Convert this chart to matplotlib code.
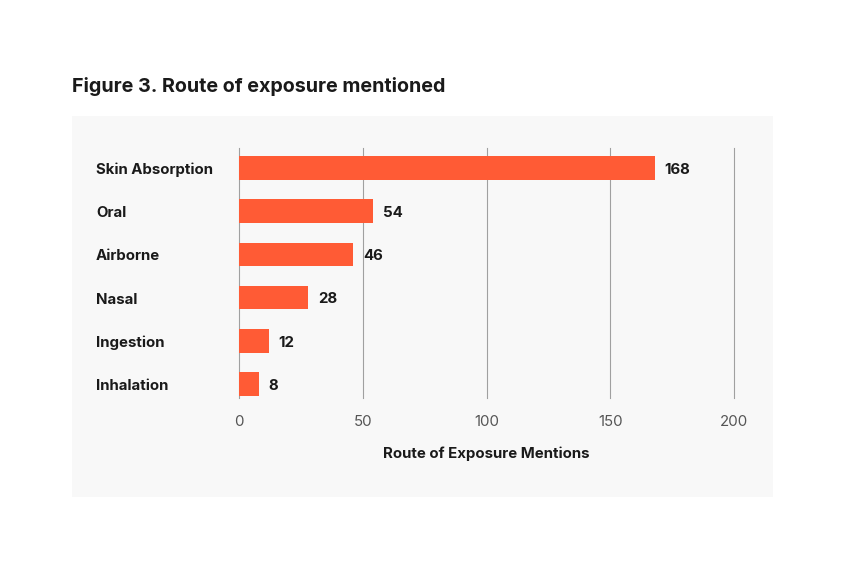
import matplotlib.pyplot as plt
from matplotlib.patches import Rectangle

routes = ["Skin Absorption", "Oral", "Airborne", "Nasal", "Ingestion", "Inhalation"]
mentions = [168, 54, 46, 28, 12, 8]
xticks = [0, 50, 100, 150, 200]

plt.rcParams['font.family'] = ['Inter', 'DejaVu Sans']

W, H = 846, 566
fig = plt.figure(figsize=(W / 100, H / 100), dpi=100)
fig.patch.set_facecolor("white")

# grey panel behind the chart
fig.patches.append(Rectangle((72 / W, 1 - 497 / H), (773 - 72) / W, (497 - 116) / H,
                             transform=fig.transFigure, facecolor="#f8f8f8",
                             edgecolor="none", zorder=-5))

fig.text(72 / W, 1 - 87 / H, "Figure 3. Route of exposure mentioned",
         fontsize=14.2, fontweight="bold", color="#1a1a1a", va="center", ha="left")

ax = fig.add_axes([239 / W, 1 - 398 / H, (734 - 239) / W, (398 - 148) / H])
ax.set_zorder(2)
ax.set_facecolor("none")

ypos = list(range(len(routes)))
ax.barh(ypos, mentions, height=0.55, color="#ff5b35", zorder=3)
ax.set_xlim(0, 200)
ax.set_ylim(5.324, -0.463)

ax.set_xticks(xticks)
ax.xaxis.grid(True, color="#a0a0a0", linewidth=0.8, zorder=1)
for gl in ax.get_xgridlines():
    gl.set_clip_on(False)
ax.set_axisbelow(True)
ax.tick_params(axis="x", length=0, pad=12, labelsize=10.8, labelcolor="#555555")
ax.tick_params(axis="y", length=0)
ax.set_yticks([])
for s in ax.spines.values():
    s.set_visible(False)

dy = 0.04
for y, name, v in zip(ypos, routes, mentions):
    ax.text(v + 4, y + dy, str(v), va="center", ha="left", fontsize=10.8,
            fontweight="bold", color="#1a1a1a")
    fig.text(96 / W, 1 - (170 + y * 43.2) / H, name, va="center", ha="left",
             fontsize=10.8, fontweight="bold", color="#1a1a1a")

fig.text((239 + 734) / 2 / W, 1 - 454 / H, "Route of Exposure Mentions",
         ha="center", va="center", fontsize=10.8, fontweight="bold", color="#1a1a1a")

fig.savefig("out.png", dpi=100)
